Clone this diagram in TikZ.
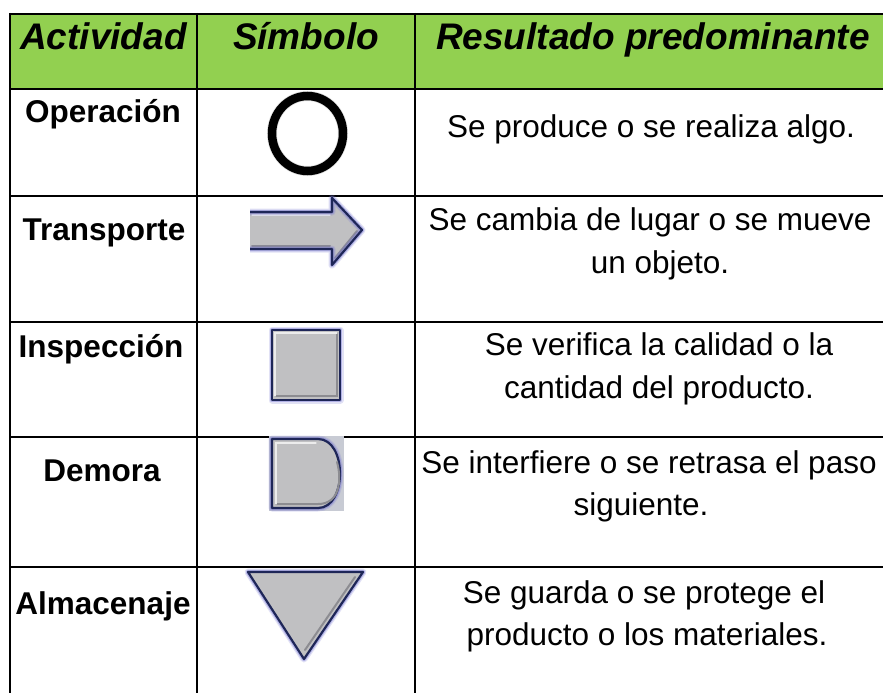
\documentclass[tikz,border=0pt]{standalone}
\usepackage{fontspec}
\setmainfont{Liberation Sans}
\definecolor{hdrgreen}{RGB}{146,208,80}
\definecolor{symgray}{RGB}{192,192,194}
\definecolor{navyc}{RGB}{30,38,88}
\definecolor{glowc}{RGB}{120,120,210}
\definecolor{dback}{RGB}{200,203,212}
\definecolor{bevel}{RGB}{140,140,145}
\tikzset{
  hdrtext/.style={font=\fontsize{37}{44}\selectfont\bfseries\itshape, inner sep=0pt, anchor=base},
  lbltext/.style={font=\fontsize{31.5}{42}\selectfont\bfseries, inner sep=0pt, anchor=base},
  bodytext/.style={font=\fontsize{31.5}{42}\selectfont, inner sep=0pt, anchor=base},
  thickrule/.style={line width=2.7pt},
  thinrule/.style={line width=1.3pt},
  glowline/.style={preaction={draw=glowc,line width=7pt,opacity=.22,line join=round},
                   preaction={draw=glowc,line width=4.5pt,opacity=.45,line join=round}},
  symline/.style={draw=navyc,line width=2.2pt,line join=round,glowline},
  bevelline/.style={draw=bevel,line width=2pt,line cap=round},
  lightline/.style={draw=white!85!gray,line width=1.2pt,line cap=round},
}
\begin{document}
\begin{tikzpicture}[x=1pt,y=-1pt]
\useasboundingbox (0,0) rectangle (883,693);
\fill[white] (0,0) rectangle (883,693);
% header band
\fill[hdrgreen] (10,14) rectangle (883,89);
% horizontal rules
\draw[thickrule] (10,14) -- (883,14);
\draw[thinrule] (10,89) -- (883,89);
\draw[thickrule] (10,196) -- (883,196);
\draw[thinrule] (10,322) -- (883,322);
\draw[thickrule] (10,437) -- (883,437);
\draw[thickrule] (10,567) -- (883,567);
% vertical rules
\draw[thinrule] (10,13) -- (10,693);
\draw[thinrule] (197,13) -- (197,693);
\draw[thinrule] (415,13) -- (415,693);

% header texts
\node[hdrtext] (h1) at (103.5,49) {Actividad};
\node[hdrtext] (h2) at (306,49) {Símbolo};
\node[hdrtext] (h3) at (653,49) {Resultado predominante};

% activity labels
\node[lbltext] (a1) at (103,122) {Operación};
\node[lbltext] (a2) at (104,240) {Transporte};
\node[lbltext] (a3) at (101,357) {Inspección};
\node[lbltext] (a4) at (102,481) {Demora};
\node[lbltext] (a5) at (103,614) {Almacenaje};

% result texts
\node[bodytext] (r1) at (651,137) {Se produce o se realiza algo.};
\node[bodytext] (r2a) at (650,230) {Se cambia de lugar o se mueve};
\node[bodytext] (r2b) at (660,273) {un objeto.};
\node[bodytext] (r3a) at (659,355) {Se verifica la calidad o la};
\node[bodytext] (r3b) at (659,398) {cantidad del producto.};
\node[bodytext] (r4a) at (649,473) {Se interfiere o se retrasa el paso};
\node[bodytext] (r4b) at (641,515) {siguiente.};
\node[bodytext] (r5a) at (644,603) {Se guarda o se protege el};
\node[bodytext] (r5b) at (647,645) {producto o los materiales.};

% --- symbols ---
% operation: circle
\draw[black!12,line width=10pt] (307.5,133.5) ellipse [x radius=35.5, y radius=37.5];
\draw[black,line width=8.5pt] (307.5,133.5) ellipse [x radius=35.5, y radius=37.5];

% transport: arrow
\fill[symgray] (250,212) -- (332,212) -- (332,198) -- (362,230) -- (332,265) -- (332,249) -- (250,249) -- cycle;
\draw[bevelline] (252,246) -- (330,246);
\draw[bevelline] (335,258) -- (357,231);
\draw[lightline] (252,215) -- (330,215);
\draw[symline] (250,212) -- (332,212) -- (332,198) -- (362,230) -- (332,265) -- (332,249) -- (250,249);

% inspection: square
\draw[symline,fill=symgray] (272,330) rectangle (340,400);
\draw[bevelline] (275,396) -- (337,396) -- (337,333);
\draw[lightline] (275,396) -- (275,333) -- (337,333);

% delay: D shape
\fill[dback] (269,436) rectangle (344,511);
\draw[symline,fill=symgray] (272,439) -- (318,439) .. controls (347.3,439) and (347.3,508) .. (318,508) -- (272,508) -- cycle;
\draw[bevelline] (276,504) -- (318,504) .. controls (340,504) and (342,480) .. (337,462);
\draw[lightline] (276,504) -- (276,443) -- (316,443);

% storage: inverted triangle
\draw[symline,fill=symgray] (248,572) -- (363,572) -- (304,659) -- cycle;
\draw[bevelline] (355,577) -- (305,650);
\end{tikzpicture}
\end{document}
